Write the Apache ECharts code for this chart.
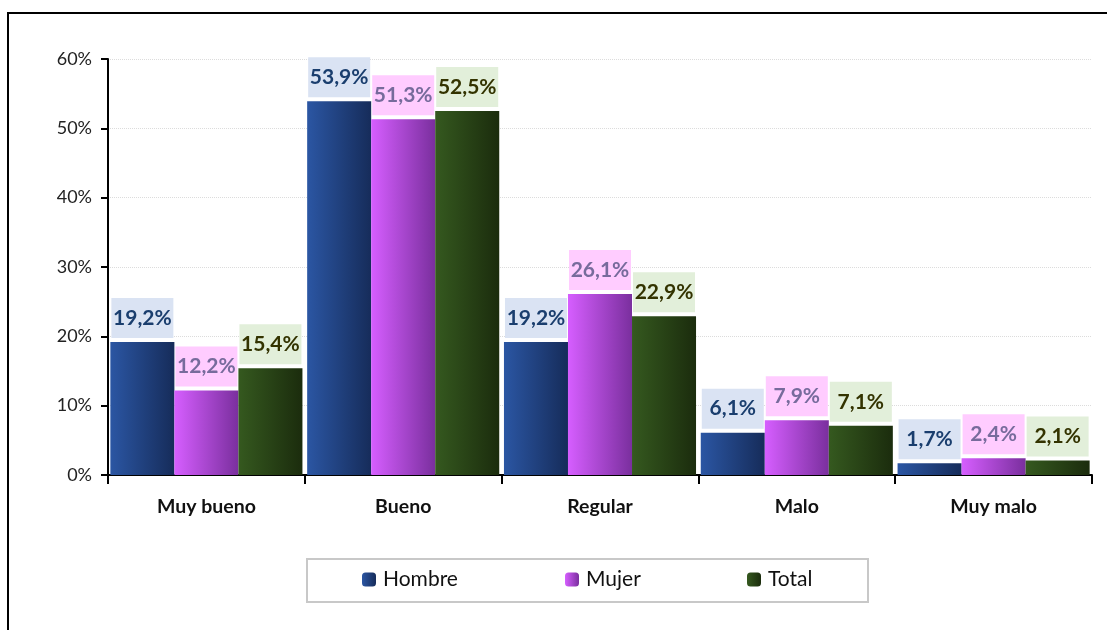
<!DOCTYPE html>
<html>
<head>
<meta charset="utf-8">
<script src="https://cdn.jsdelivr.net/npm/echarts@6/dist/echarts.min.js"></script>
<style>
  html, body { margin: 0; padding: 0; background: #fff; }
  #chart { width: 1107px; height: 630px; }
</style>
</head>
<body>
<div id="chart"></div>
<script>
// categories and values (percent)
const categories = ["Muy bueno", "Bueno", "Regular", "Malo", "Muy malo"];
const hombre = [19.2, 53.9, 19.2, 6.1, 1.7];
const mujer = [12.2, 51.3, 26.1, 7.9, 2.4];
const total = [15.4, 52.5, 22.9, 7.1, 2.1];
const yTicks = { min: 0, max: 60, interval: 10 };
const seriesNames = ["Hombre", "Mujer", "Total"];
const legendLeft = [362, 565, 747];

const font = "Lato, 'Open Sans', sans-serif";

const grad = (a, b) =>
  new echarts.graphic.LinearGradient(0, 0, 1, 0, [
    { offset: 0, color: a },
    { offset: 1, color: b },
  ]);

const pct = (p) => p.value.toFixed(1).replace(".", ",") + "%";

const makeSeries = (name, data, c1, c2, txt, bg) => ({
  name: name,
  type: "bar",
  data: data,
  barGap: "0%",
  barCategoryGap: "2.4%",
  itemStyle: { color: grad(c1, c2) },
  label: {
    show: true,
    position: "top",
    distance: 4,
    formatter: pct,
    fontFamily: font,
    fontWeight: "bold",
    fontSize: 21,
    color: txt,
    backgroundColor: bg,
    width: 54,
    lineHeight: 20,
    align: "center",
    padding: [10, 4, 10, 4],
  },
});

// one legend per series, placed like the original
const legends = seriesNames.map((n, i) => ({
  data: [n],
  left: legendLeft[i],
  top: 569,
  padding: 0,
  itemWidth: 14,
  itemHeight: 14,
  itemGap: 0,
  textStyle: { fontFamily: font, fontSize: 21, color: "#111", padding: [0, 0, 0, 2] },
}));

const chart = echarts.init(document.getElementById("chart"));
const option = {
  animation: false,
  backgroundColor: "#fff",
  grid: { left: 108, top: 59, right: 15, bottom: 155, containLabel: false },
  legend: legends,
  xAxis: {
    type: "category",
    data: categories,
    axisLine: { lineStyle: { color: "#000", width: 2 } },
    axisTick: { show: true, length: 9, lineStyle: { color: "#000", width: 2 } },
    axisLabel: {
      margin: 22,
      fontFamily: font,
      fontWeight: "bold",
      fontSize: 19.5,
      color: "#111",
    },
  },
  yAxis: {
    type: "value",
    min: yTicks.min,
    max: yTicks.max,
    interval: yTicks.interval,
    axisLine: { show: true, lineStyle: { color: "#000", width: 2 } },
    axisTick: { show: true, length: 7, lineStyle: { color: "#000", width: 2 } },
    axisLabel: {
      formatter: "{value}%",
      margin: 16,
      fontFamily: font,
      fontSize: 18,
      color: "#222",
    },
    splitLine: { lineStyle: { color: "#dcdcdc", width: 1, type: "dotted" } },
  },
  graphic: [
    {
      type: "rect",
      shape: { x: 8, y: 13, width: 1300, height: 800 },
      style: { fill: null, stroke: "#000", lineWidth: 2 },
      silent: true,
    },
    {
      type: "rect",
      shape: { x: 307, y: 559, width: 561, height: 43 },
      style: { fill: null, stroke: "#c8c8c8", lineWidth: 2 },
      silent: true,
    },
  ],
  series: [
    makeSeries("Hombre", hombre, "#2b56a3", "#162c5a", "#1a3e6e", "#dae3f3"),
    makeSeries("Mujer", mujer, "#d65eff", "#7a2f9e", "#776b9c", "#ffccff"),
    makeSeries("Total", total, "#35591f", "#1b2c0d", "#333300", "#e2efda"),
  ],
};
chart.setOption(option);
</script>
</body>
</html>
